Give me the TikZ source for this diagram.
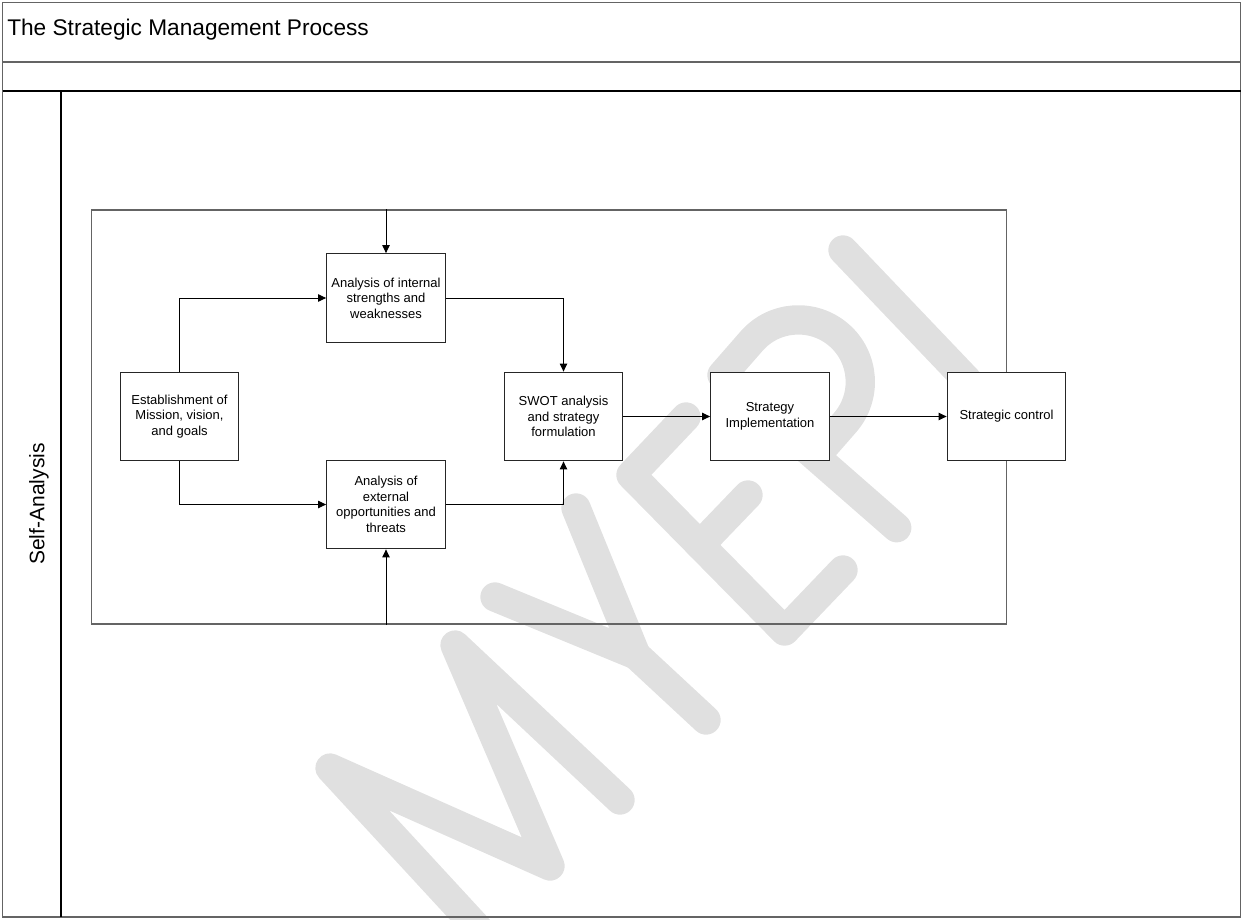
\documentclass[tikz,border=0pt]{standalone}
\usepackage{fontspec}
\setmainfont{Liberation Sans}
\usetikzlibrary{arrows.meta}
\definecolor{wmgray}{RGB}{224,224,224}
\definecolor{framegray}{RGB}{100,100,100}
\tikzset{
  proc/.style={draw=black!85, line width=0.8pt, fill=white, minimum width=89pt, minimum height=66.5pt,
    align=center, font=\fontsize{9.75}{11.7}\selectfont, inner sep=1pt},
  conn/.style={draw=black, line width=0.75pt, -{Triangle[length=6pt,width=5.5pt]}},
  wmark/.style={draw=wmgray, line width=22pt, line cap=round, line join=round},
  frameline/.style={draw=framegray, line width=1.1pt},
  laneline/.style={draw=black, line width=0.8pt},
}
\begin{document}
\begin{tikzpicture}[x=0.75pt,y=-0.75pt]
\useasboundingbox (0,0) rectangle (1243,920);
% watermark
\begin{scope}
\clip (0,0) rectangle (1243,920);
\draw[wmark] (484,935) -- (330,768) -- (550,866) -- (455,645) -- (620,800);
\draw[wmark] (495,597) -- (636,655) -- (576,508);
\draw[wmark] (636,655) -- (706,720);
\draw[wmark] (686,417) -- (631,475) -- (784.6,631) -- (843,570);
\draw[wmark] (700,545) -- (748,495);
\draw[wmark] (896.7,527.7) -- (722,375) -- (751.6,341.1)
  .. controls (774.1,315.3) and (813.3,312.7) .. (839.1,335.2)
  .. controls (864.9,357.7) and (867.5,396.9) .. (845,422.7) -- (815.4,456.6);
\draw[wmark] (843,250) -- (967,380);
\end{scope}
% pool frame
\draw[frameline] (2.5,2.5) rectangle (1240.5,917);
\draw[frameline] (2.5,62) -- (1240.5,62);
\draw[laneline] (2.5,91) -- (1240.5,91);
\draw[laneline] (61,91) -- (61,917);
\node[anchor=base west, font=\fontsize{17}{20}\selectfont, inner sep=0pt] (title) at (7,36) {The Strategic Management Process};
\node[rotate=90, font=\fontsize{15.75}{19}\selectfont, inner sep=0pt] (lane) at (39,504) {Self-Analysis};
% loop rectangle
\node[draw=framegray, line width=0.8pt, minimum width=686.25pt, minimum height=310.5pt, inner sep=0pt] (loop) at (548.75,417) {};
% process boxes
\node[proc] (A) at (386,298) {Analysis of internal\\strengths and\\weaknesses};
\node[proc] (E) at (179.5,416.5) {Establishment of\\Mission, vision,\\and goals};
\node[proc] (B) at (386,504.5) {Analysis of\\external\\opportunities and\\threats};
\node[proc] (S) at (563.5,416.5) {SWOT analysis\\and strategy\\formulation};
\node[proc] (I) at (770,416.5) {Strategy\\Implementation};
\node[proc] (C) at (1006.5,416.5) {Strategic control};
% connectors
\draw[conn] (A.north |- loop.north) -- (A.north);
\draw[conn] (B.south |- loop.south) -- (B.south);
\draw[conn] (E.north) |- (A.west);
\draw[conn] (E.south) |- (B.west);
\draw[conn] (A.east) -| (S.north);
\draw[conn] (B.east) -| (S.south);
\draw[conn] (S.east) -- (I.west);
\draw[conn] (I.east) -- (C.west);
\end{tikzpicture}
\end{document}
